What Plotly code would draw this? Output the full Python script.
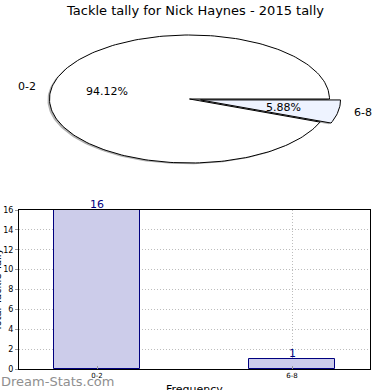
import math
import plotly.graph_objects as go

# ---- data ----
title_text = "Tackle tally for Nick Haynes - 2015 tally"
categories = ["0-2", "6-8"]
counts = [16, 1]
pie_colors = ["#ffffff", "#eef3ff"]
explode = [0.0, 0.08]
bar_fill = "#ccccea"
bar_edge = "#00007f"
y_ticks = [0, 2, 4, 6, 8, 10, 12, 14, 16]

W = H = 390


def px(x):
    return x / W


def py(y):
    return 1 - y / H


fig = go.Figure()

# ---- elliptical pie (matplotlib-like, non-equal aspect) ----
cx, cy, rx, ry = 189.5, 99.0, 140.0, 64.0
total = sum(counts)
start = 0.0
wedges = []
for cat, v, col, ex in zip(categories, counts, pie_colors, explode):
    frac = v / total
    a0 = start
    a1 = start + frac * 360
    mid = math.radians((a0 + a1) / 2)
    ox = ex * rx * math.cos(mid)
    oy = -ex * ry * math.sin(mid)
    wedges.append((cat, frac, col, a0, a1, mid, ox, oy))
    start = a1


def wedge_path(a0, a1, ox, oy, dx=0.0, dy=0.0):
    n = max(4, int((a1 - a0) / 1.5))
    xs = [cx + ox + dx]
    ys = [cy + oy + dy]
    for i in range(n + 1):
        t = math.radians(a0 + (a1 - a0) * i / n)
        xs.append(cx + ox + dx + rx * math.cos(t))
        ys.append(cy + oy + dy - ry * math.sin(t))
    xs.append(cx + ox + dx)
    ys.append(cy + oy + dy)
    return xs, ys


# shadows
for cat, frac, col, a0, a1, mid, ox, oy in wedges:
    xs, ys = wedge_path(a0, a1, ox, oy, dx=-2.0, dy=1.2)
    fig.add_trace(go.Scatter(x=xs, y=ys, mode="lines", fill="toself",
                             fillcolor="rgba(100,100,100,0.5)", line=dict(width=0),
                             xaxis="x2", yaxis="y2", hoverinfo="skip", showlegend=False))
# wedges
for cat, frac, col, a0, a1, mid, ox, oy in wedges:
    xs, ys = wedge_path(a0, a1, ox, oy)
    fig.add_trace(go.Scatter(x=xs, y=ys, mode="lines", fill="toself",
                             fillcolor=col, line=dict(color="black", width=1),
                             xaxis="x2", yaxis="y2", hoverinfo="skip", showlegend=False))

annotations = []
for cat, frac, col, a0, a1, mid, ox, oy in wedges:
    tx = cx + ox + 0.6 * rx * math.cos(mid)
    ty = cy + oy - 0.6 * ry * math.sin(mid)
    annotations.append(dict(x=tx, y=ty, xref="x2", yref="y2", text="%.2f%%" % (frac * 100),
                            xanchor="center", yanchor="middle",
                            showarrow=False, font=dict(size=11, color="black")))
    lx = cx + ox + 1.1 * rx * math.cos(mid)
    ly = cy + oy - 1.1 * ry * math.sin(mid)
    annotations.append(dict(x=lx, y=ly, xref="x2", yref="y2", text=cat, showarrow=False,
                            xanchor="right" if math.cos(mid) < 0 else "left",
                            yanchor="middle",
                            font=dict(size=11, color="black")))

# ---- bar chart ----
xpos = list(range(len(categories)))
fig.add_trace(go.Bar(x=xpos, y=counts, width=0.446,
                     marker=dict(color=bar_fill, line=dict(color=bar_edge, width=1)),
                     hoverinfo="skip", showlegend=False))
for xv, c in zip(xpos, counts):
    annotations.append(dict(x=xv, y=c, xref="x", yref="y", text=str(c), showarrow=False,
                            xanchor="center", yanchor="bottom", yshift=-3,
                            font=dict(size=11, color=bar_edge)))

annotations += [
    dict(x=px(195), y=py(10), xref="paper", yref="paper", text=title_text,
         xanchor="center", yanchor="middle",
         showarrow=False, font=dict(size=13, color="black")),
    dict(x=px(194), y=py(389), xref="paper", yref="paper", text="Frequency",
         xanchor="center", yanchor="middle", showarrow=False,
         font=dict(size=11, color="black")),
    dict(x=px(-3), y=py(290), xref="paper", yref="paper", text="Total Tackle Tally",
         xanchor="center", yanchor="middle",
         textangle=-90, showarrow=False, font=dict(size=10, color="black")),
    dict(x=px(-1), y=py(381), xref="paper", yref="paper", text="Dream-Stats.com",
         xanchor="left", yanchor="middle", showarrow=False,
         font=dict(size=13, color="#8f8f8f")),
]

grid_style = dict(showgrid=True, gridcolor="#bdbdbd", griddash="1px,2px", gridwidth=1)

fig.update_layout(
    width=W, height=H, margin=dict(l=0, r=0, t=0, b=0, autoexpand=False),
    paper_bgcolor="white", plot_bgcolor="white",
    font=dict(family="DejaVu Sans", color="black"),
    annotations=annotations,
    bargap=0,
    xaxis=dict(domain=[px(19), px(370)], range=[-0.4, 1.4],
               tickvals=xpos, ticktext=categories,
               tickfont=dict(size=7), **grid_style,
               showline=True, linecolor="black", linewidth=1, mirror=True,
               ticks="inside", ticklen=3, tickcolor="#999", zeroline=False, fixedrange=True),
    yaxis=dict(domain=[py(369), py(210)], range=[0, 16], tickvals=y_ticks,
               tickfont=dict(size=8), **grid_style,
               showline=True, linecolor="black", linewidth=1, mirror=True,
               ticks="outside", ticklen=3, tickcolor="#999", zeroline=False, fixedrange=True),
    xaxis2=dict(domain=[0, 1], range=[0, W], visible=False, fixedrange=True, anchor="y2"),
    yaxis2=dict(domain=[py(180), 1], range=[180, 0], visible=False, fixedrange=True,
                anchor="x2"),
)

fig.write_html("out.html", config={"displayModeBar": False},
               post_script="document.body.style.margin='0px';document.body.style.overflow='hidden';")
